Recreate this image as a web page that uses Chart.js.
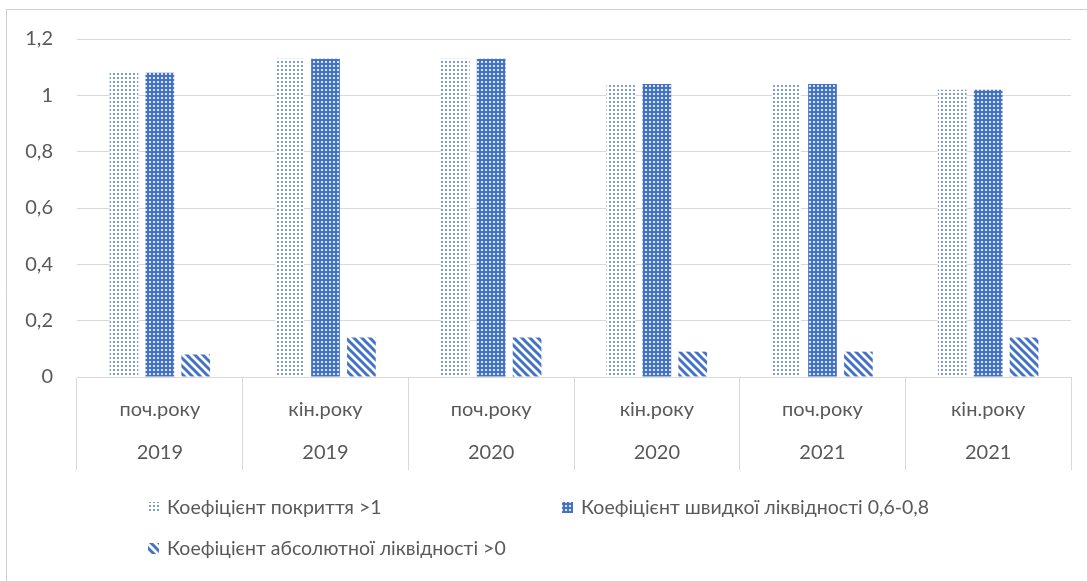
<!DOCTYPE html>
<html>
<head>
<meta charset="utf-8">
<script src="https://cdn.jsdelivr.net/npm/chart.js@4/dist/chart.umd.min.js"></script>
<style>
  html, body { margin: 0; padding: 0; background: #fff; }
</style>
</head>
<body>
<canvas id="liquidityChart" width="1087" height="581"></canvas>
<script>
// liquidity ratios by period
var periods = ["поч.року", "кін.року", "поч.року", "кін.року", "поч.року", "кін.року"];
var years = ["2019", "2019", "2020", "2020", "2021", "2021"];
var coverageRatio = [1.08, 1.13, 1.13, 1.04, 1.04, 1.02];
var quickRatio = [1.08, 1.13, 1.13, 1.04, 1.04, 1.02];
var absoluteRatio = [0.08, 0.14, 0.14, 0.09, 0.09, 0.14];
var seriesNames = [
  "Коефіцієнт покриття >1",
  "Коефіцієнт швидкої ліквідності 0,6-0,8",
  "Коефіцієнт абсолютної ліквідності >0"
];
var yTickValues = [0, 0.2, 0.4, 0.6, 0.8, 1, 1.2];

var BLUE = "#4472C4";
var TEXT = "#595959";
var LINE = "#D9D9D9";
var FONT = "Lato, 'Open Sans', sans-serif";

var canvas = document.getElementById("liquidityChart");
var ctx = canvas.getContext("2d");

function makePattern(size, draw) {
  var tile = document.createElement("canvas");
  tile.width = size;
  tile.height = size;
  var g = tile.getContext("2d");
  g.fillStyle = "#fff";
  g.fillRect(0, 0, size, size);
  draw(g);
  return ctx.createPattern(tile, "repeat");
}

// light dotted fill
var dotPattern = makePattern(4, function (g) {
  g.fillStyle = "#7d9bd6";
  g.fillRect(1, 1, 2, 2);
});

// solid blue with small white dots
var gridPattern = makePattern(4, function (g) {
  g.fillStyle = BLUE;
  g.fillRect(0, 0, 4, 4);
  g.fillStyle = "#dbe4f4";
  g.fillRect(1, 1, 2, 2);
});

// wide downward diagonal
var stripePattern = makePattern(8, function (g) {
  g.strokeStyle = BLUE;
  g.lineWidth = 3;
  [-8, 0, 8].forEach(function (k) {
    g.beginPath();
    g.moveTo(-1, k - 1);
    g.lineTo(9, k + 9);
    g.stroke();
  });
});

var labels = periods.map(function (p, i) {
  return [p, years[i]];
});

function fmt(v) {
  return String(Math.round(v * 10) / 10).replace(".", ",");
}

// thin frame around the chart
var framePlugin = {
  id: "frame",
  beforeDraw: function (chart) {
    var c = chart.ctx;
    c.save();
    c.strokeStyle = "#D0D0D0";
    c.lineWidth = 1;
    c.beginPath();
    c.moveTo(6.5, chart.height);
    c.lineTo(6.5, 9.5);
    c.lineTo(chart.width, 9.5);
    c.stroke();
    c.restore();
  }
};

// two-column legend under the axis
var legendPlugin = {
  id: "gridLegend",
  afterDraw: function (chart) {
    var slots = [
      { x: 148, y: 508 },
      { x: 562, y: 508 },
      { x: 148, y: 549 }
    ];
    var c = chart.ctx;
    c.save();
    c.font = "19.5px " + FONT;
    c.textBaseline = "middle";
    chart.data.datasets.forEach(function (ds, i) {
      var s = slots[i];
      c.fillStyle = ds.backgroundColor;
      c.fillRect(s.x, s.y - 6, 11, 11);
      c.fillStyle = TEXT;
      c.fillText(ds.label, s.x + 19, s.y);
    });
    c.restore();
  }
};

var liquidityChart = new Chart(ctx, {
  type: "bar",
  data: {
    labels: labels,
    datasets: [
      { label: seriesNames[0], data: coverageRatio, backgroundColor: dotPattern },
      { label: seriesNames[1], data: quickRatio, backgroundColor: gridPattern },
      { label: seriesNames[2], data: absoluteRatio, backgroundColor: stripePattern }
    ]
  },
  options: {
    responsive: false,
    animation: false,
    devicePixelRatio: 1,
    categoryPercentage: 0.65,
    barPercentage: 0.8,
    layout: { padding: { left: 0, top: 39, right: 16, bottom: 111 } },
    plugins: {
      legend: { display: false },
      tooltip: { enabled: false }
    },
    scales: {
      x: {
        grid: {
          offset: true,
          drawOnChartArea: false,
          drawTicks: true,
          tickLength: 93,
          color: LINE
        },
        border: { display: true, color: LINE },
        ticks: {
          padding: -81.5,
          color: TEXT,
          autoSkip: false,
          maxRotation: 0,
          font: { family: FONT, size: 20, lineHeight: 43 / 20 }
        },
        afterFit: function (scale) {
          scale.height = 93;
        }
      },
      y: {
        min: 0,
        max: 1.2,
        afterBuildTicks: function (scale) {
          scale.ticks = yTickValues.map(function (v) {
            return { value: v };
          });
        },
        ticks: {
          padding: 24,
          color: TEXT,
          font: { family: FONT, size: 20 },
          callback: function (v) {
            return fmt(v);
          }
        },
        grid: { color: LINE, drawTicks: false },
        border: { display: false },
        afterFit: function (scale) {
          scale.width = 77;
        }
      }
    }
  },
  plugins: [framePlugin, legendPlugin]
});
</script>
</body>
</html>
